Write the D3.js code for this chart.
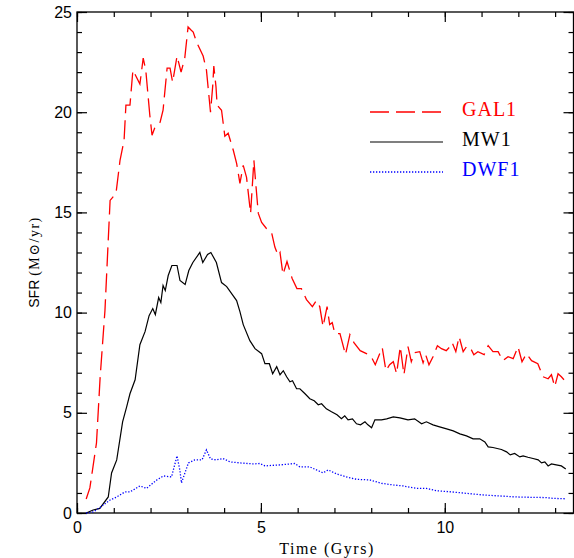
<!doctype html>
<html>
<head>
<meta charset="utf-8">
<style>
  body { margin: 0; background: white; }
  .tick text { font-family: "Liberation Sans", Arial, sans-serif; font-size: 16px; fill: black; }
  .tick line { stroke: black; stroke-width: 1.2; }
</style>
<script src="https://d3js.org/d3.v7.min.js"></script>
</head>
<body>
<svg width="574" height="558"></svg>
<script>

// SFR curves (time in Gyr, SFR in Msun/yr)
var gal1T = [0.25,0.35,0.53,0.63,0.76,0.9,1.06,1.17,1.28,1.33,1.44,1.52,1.71,1.8,1.87,1.98,2.04,2.12,2.26,2.34,2.45,2.53,2.6,2.72,2.83,2.93,3.02,3.1,3.16,3.25,3.43,3.52,3.63,3.69,3.72,3.78,3.81,3.93,4.02,4.11,4.25,4.34,4.43,4.52,4.61,4.72,4.81,4.86,4.93,5.02,5.15,5.29,5.38,5.47,5.52,5.6,5.71,5.85,5.98,6.1,6.24,6.4,6.51,6.6,6.69,6.8,6.87,6.94,7.01,7.15,7.3,7.42,7.53,7.7,7.87,8.0,8.11,8.23,8.3,8.4,8.5,8.6,8.69,8.79,8.89,9.0,9.09,9.18,9.32,9.41,9.48,9.57,9.68,9.8,9.91,10.04,10.14,10.2,10.3,10.39,10.5,10.59,10.68,10.79,10.9,11.07,11.18,11.31,11.45,11.58,11.72,11.86,11.99,12.1,12.22,12.36,12.53,12.67,12.81,12.9,12.99,13.08,13.17,13.29];
var gal1V = [0.7,1.25,3.5,6.8,10.1,15.6,15.95,17.6,18.6,20.35,20.35,22.1,21.4,22.7,22.1,19.85,18.85,19.25,19.5,20.1,22.2,22.2,21.5,22.8,22.0,22.7,24.25,24.1,24.0,23.5,22.8,22.1,20.0,21.3,22.3,21.25,20.35,20.1,18.8,18.95,18.1,17.45,16.45,17.35,16.75,14.95,17.6,16.45,14.95,14.5,14.2,14.0,13.27,12.85,13.0,11.9,12.55,11.7,11.2,11.2,10.65,10.3,10.6,10.3,9.3,10.3,9.4,9.5,8.95,8.95,7.9,8.9,8.5,8.1,7.95,7.8,7.4,7.95,8.25,7.1,7.4,7.55,6.95,8.3,6.9,8.3,7.55,8.0,8.05,7.5,7.9,7.4,7.8,8.35,8.2,8.1,8.3,8.5,8.05,8.8,8.05,8.3,8.3,7.9,8.05,7.9,8.35,8.05,8.05,7.6,7.8,7.7,8.3,7.55,7.95,7.6,7.45,6.8,6.7,6.9,6.3,6.95,6.8,6.55];

var mw1T = [0.25,0.44,0.62,0.85,0.94,1.08,1.24,1.35,1.44,1.58,1.71,1.85,1.96,2.06,2.13,2.22,2.28,2.34,2.4,2.48,2.58,2.72,2.8,2.94,3.04,3.15,3.34,3.42,3.55,3.64,3.79,3.93,4.07,4.34,4.43,4.52,4.7,4.84,5.02,5.11,5.23,5.32,5.43,5.52,5.61,5.7,5.79,5.86,5.97,6.06,6.2,6.33,6.45,6.56,6.65,6.78,6.92,7.07,7.19,7.28,7.37,7.49,7.6,7.71,7.83,7.91,8.01,8.1,8.28,8.42,8.6,8.78,9.0,9.18,9.37,9.5,9.68,9.86,10.05,10.23,10.41,10.59,10.77,10.95,11.09,11.18,11.31,11.54,11.68,11.78,11.9,12.04,12.13,12.26,12.4,12.54,12.63,12.72,12.81,12.9,13.03,13.17,13.29];
var mw1V = [0,0.15,0.23,0.8,2.0,2.65,4.55,5.3,5.95,6.65,8.4,9.05,9.85,10.2,9.9,10.75,10.5,11.35,11.1,11.85,12.35,12.35,11.6,11.4,12.1,12.5,13.0,12.5,12.9,13.0,12.5,11.5,11.3,10.6,10.05,9.4,8.6,8.2,7.95,7.45,7.45,6.95,7.3,6.9,7.1,6.8,6.55,6.6,6.2,6.2,5.95,5.7,5.6,5.4,5.45,5.2,5.05,4.9,4.7,4.85,4.65,4.7,4.45,4.4,4.55,4.4,4.25,4.65,4.65,4.7,4.8,4.75,4.65,4.7,4.45,4.55,4.4,4.3,4.2,4.1,3.95,3.85,3.7,3.7,3.55,3.3,3.27,3.17,3.05,2.9,2.97,2.8,2.85,2.78,2.72,2.65,2.5,2.55,2.35,2.45,2.4,2.35,2.2];

var dwf1T = [0.25,0.44,0.63,0.9,1.08,1.3,1.44,1.71,1.89,2.17,2.35,2.57,2.72,2.8,2.84,3.03,3.2,3.4,3.52,3.63,3.79,3.97,4.16,4.43,4.79,4.97,5.11,5.33,5.52,5.92,6.06,6.33,6.51,6.69,6.83,7.06,7.37,7.6,7.96,8.28,8.6,8.87,9.23,9.5,9.77,10.14,10.59,11.04,11.49,11.95,12.4,12.76,12.94,13.29];
var dwf1V = [0,0.05,0.28,0.65,0.8,1.05,1.05,1.35,1.23,1.65,1.85,1.8,2.85,2.1,1.5,2.5,2.65,2.65,3.15,2.7,2.65,2.72,2.55,2.5,2.45,2.47,2.35,2.38,2.4,2.47,2.3,2.3,2.15,2.0,2.15,1.95,1.78,1.68,1.65,1.48,1.4,1.35,1.23,1.23,1.11,1.06,0.98,0.9,0.85,0.8,0.78,0.77,0.73,0.71];

var seriesNames = ["GAL1", "MW1", "DWF1"];
var yMajor = [0, 5, 10, 15, 20, 25];
var xMajor = [0, 5, 10];

var svg = d3.select("svg");

var xScale = d3.scaleLinear().domain([0, 13.5]).range([77, 573.5]),
    yScale = d3.scaleLinear().domain([0, 25]).range([513, 12]);

var xMinor = d3.range(0, 14, 1), yMinor = d3.range(0, 26, 1);

function zip(t, v) { return t.map(function(d, i) { return [d, v[i]]; }); }

var series = [
  { name: seriesNames[0], pts: zip(gal1T, gal1V), color: "#ff0000", dash: "19,7", width: 1.3 },
  { name: seriesNames[1], pts: zip(mw1T, mw1V), color: "#000000", dash: null, width: 1.2 },
  { name: seriesNames[2], pts: zip(dwf1T, dwf1V), color: "#0000ff", dash: "1.3,1.7", width: 1.3 }
];

// frame
svg.append("rect")
   .attr("x", xScale(0)).attr("y", yScale(25))
   .attr("width", xScale(13.5) - xScale(0))
   .attr("height", yScale(0) - yScale(25))
   .attr("fill", "none").attr("stroke", "black").attr("stroke-width", 1.3);

function axisG(axis, tx, ty) {
  var g = svg.append("g").attr("transform", "translate(" + tx + "," + ty + ")").call(axis);
  g.select(".domain").remove();
  return g;
}

// minor ticks
axisG(d3.axisBottom(xScale).tickValues(xMinor).tickSize(-5).tickFormat(""), 0, yScale(0));
axisG(d3.axisTop(xScale).tickValues(xMinor).tickSize(-5).tickFormat(""), 0, yScale(25));
axisG(d3.axisLeft(yScale).tickValues(yMinor).tickSize(-5).tickFormat(""), xScale(0), 0);
axisG(d3.axisRight(yScale).tickValues(yMinor).tickSize(-5).tickFormat(""), xScale(13.5), 0);

// major ticks with labels
axisG(d3.axisBottom(xScale).tickValues(xMajor).tickSize(-10).tickPadding(9).tickFormat(d3.format("d")), 0, yScale(0));
axisG(d3.axisTop(xScale).tickValues(xMajor).tickSize(-10).tickFormat(""), 0, yScale(25));
axisG(d3.axisLeft(yScale).tickValues(yMajor).tickSize(-10).tickPadding(5).tickFormat(d3.format("d")), xScale(0), 0);
axisG(d3.axisRight(yScale).tickValues(yMajor).tickSize(-10).tickFormat(""), xScale(13.5), 0);

// curves
var line = d3.line()
   .x(function(d) { return xScale(d[0]); })
   .y(function(d) { return yScale(d[1]); });

series.forEach(function(s) {
  svg.append("path")
     .datum(s.pts)
     .attr("d", line)
     .attr("fill", "none")
     .attr("stroke", s.color)
     .attr("stroke-width", s.width)
     .attr("stroke-dasharray", s.dash);
});

// legend
var legend = svg.append("g");
series.forEach(function(s, i) {
  var ly = 112 + i * 30;
  legend.append("line")
     .attr("x1", 370).attr("x2", 443).attr("y1", ly).attr("y2", ly)
     .attr("stroke", s.color).attr("stroke-width", s.width)
     .attr("stroke-dasharray", s.dash);
  legend.append("text")
     .attr("x", 462).attr("y", ly + 4)
     .attr("fill", s.color)
     .style("font", "20px 'Liberation Serif', serif")
     .style("letter-spacing", "1px")
     .text(s.name);
});

// axis titles
svg.append("text")
   .attr("x", 327).attr("y", 554)
   .attr("text-anchor", "middle")
   .style("font", "16px 'Liberation Serif', serif")
   .style("letter-spacing", "1.5px")
   .text("Time (Gyrs)");

var yt = svg.append("text")
   .attr("transform", "translate(39,262) rotate(-90)")
   .attr("text-anchor", "middle");
yt.append("tspan")
   .style("font", "14px 'Liberation Sans', sans-serif")
   .text("SFR ");
yt.append("tspan")
   .style("font", "14px 'Liberation Serif', 'DejaVu Serif', serif")
   .style("letter-spacing", "1.5px")
   .text("(M\u2299/yr)");

</script>
</body>
</html>
